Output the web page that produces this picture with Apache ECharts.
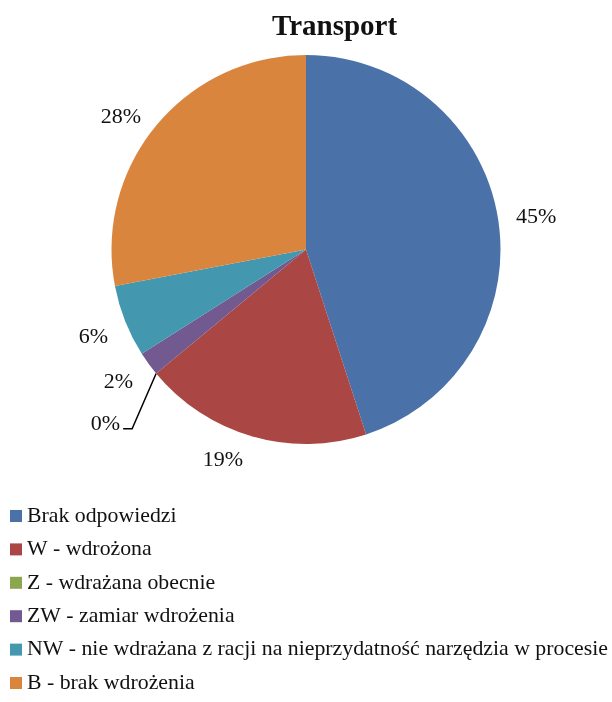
<!DOCTYPE html>
<html>
<head>
<meta charset="utf-8">
<script src="https://cdn.jsdelivr.net/npm/echarts@6/dist/echarts.min.js"></script>
<style>
  html, body { margin: 0; padding: 0; background: #ffffff; }
  #chart { width: 612px; height: 702px; }
</style>
</head>
<body>
<div id="chart"></div>
<script>
// Share of answers for the "Transport" group
const categories = [
  'Brak odpowiedzi',
  'W - wdrożona',
  'Z - wdrażana obecnie',
  'ZW - zamiar wdrożenia',
  'NW - nie wdrażana z racji na nieprzydatność narzędzia w procesie',
  'B - brak wdrożenia'
];
const shares = [45, 19, 0, 2, 6, 28];
const colors = ['#4A72A8', '#AA4744', '#8BA64E', '#72598F', '#4398AF', '#DA853E'];

const serif = '"Liberation Serif", "Times New Roman", serif';
const pieCenter = [306, 249.5];
const pieRadius = 194.5;

const chart = echarts.init(document.getElementById('chart'), null, { renderer: 'canvas' });

const data = categories.map((name, i) => {
  const item = { name: name, value: shares[i], itemStyle: { color: colors[i] } };
  if (shares[i] === 0) {
    // zero-size slice: its label sits lower and is tied back with a leader line
    item.labelLine = { show: true, length: 13, length2: 6, lineStyle: { color: '#000', width: 1.5 } };
  }
  return item;
});

chart.setOption({
  animation: false,
  backgroundColor: '#ffffff',
  title: {
    text: 'Transport',
    left: 272,
    top: 13,
    padding: 0,
    textStyle: { fontFamily: serif, fontSize: 29, fontWeight: 'bold', color: '#111' }
  },
  legend: {
    orient: 'vertical',
    left: 10,
    top: 505,
    height: 197,
    padding: 0,
    icon: 'rect',
    itemWidth: 12,
    itemHeight: 12,
    itemGap: 11.4,
    textStyle: { fontFamily: serif, fontSize: 21.8, color: '#111', lineHeight: 22 },
    data: categories
  },
  series: [{
    type: 'pie',
    center: pieCenter,
    radius: pieRadius,
    startAngle: 90,
    clockwise: true,
    avoidLabelOverlap: false,
    data: data,
    label: {
      show: true,
      position: 'outside',
      formatter: '{c}%',
      fontFamily: serif,
      fontSize: 22,
      color: '#111'
    },
    labelLine: { show: false, length: 13, length2: 0 },
    labelLayout: function (params) {
      const r = params.labelRect;
      if (shares[params.dataIndex] === 0) {
        // move the label down-left, then run the leader line from the slice edge
        const dx = -15, dy = 42;
        const right = r.x + r.width + dx;
        const base = r.y + r.height / 2 + dy + 5;
        const start = params.labelLinePoints ? params.labelLinePoints[0] : [right + 36, base - 55];
        return {
          dx: dx,
          dy: dy,
          labelLinePoints: [start, [right + 12, base], [right + 3, base]]
        };
      }
      // labels below the pie centre hang beneath their anchor point
      if (r.y + r.height / 2 > pieCenter[1]) {
        return { dy: r.height / 2 };
      }
      return {};
    },
    emphasis: { disabled: true }
  }]
});
</script>
</body>
</html>
